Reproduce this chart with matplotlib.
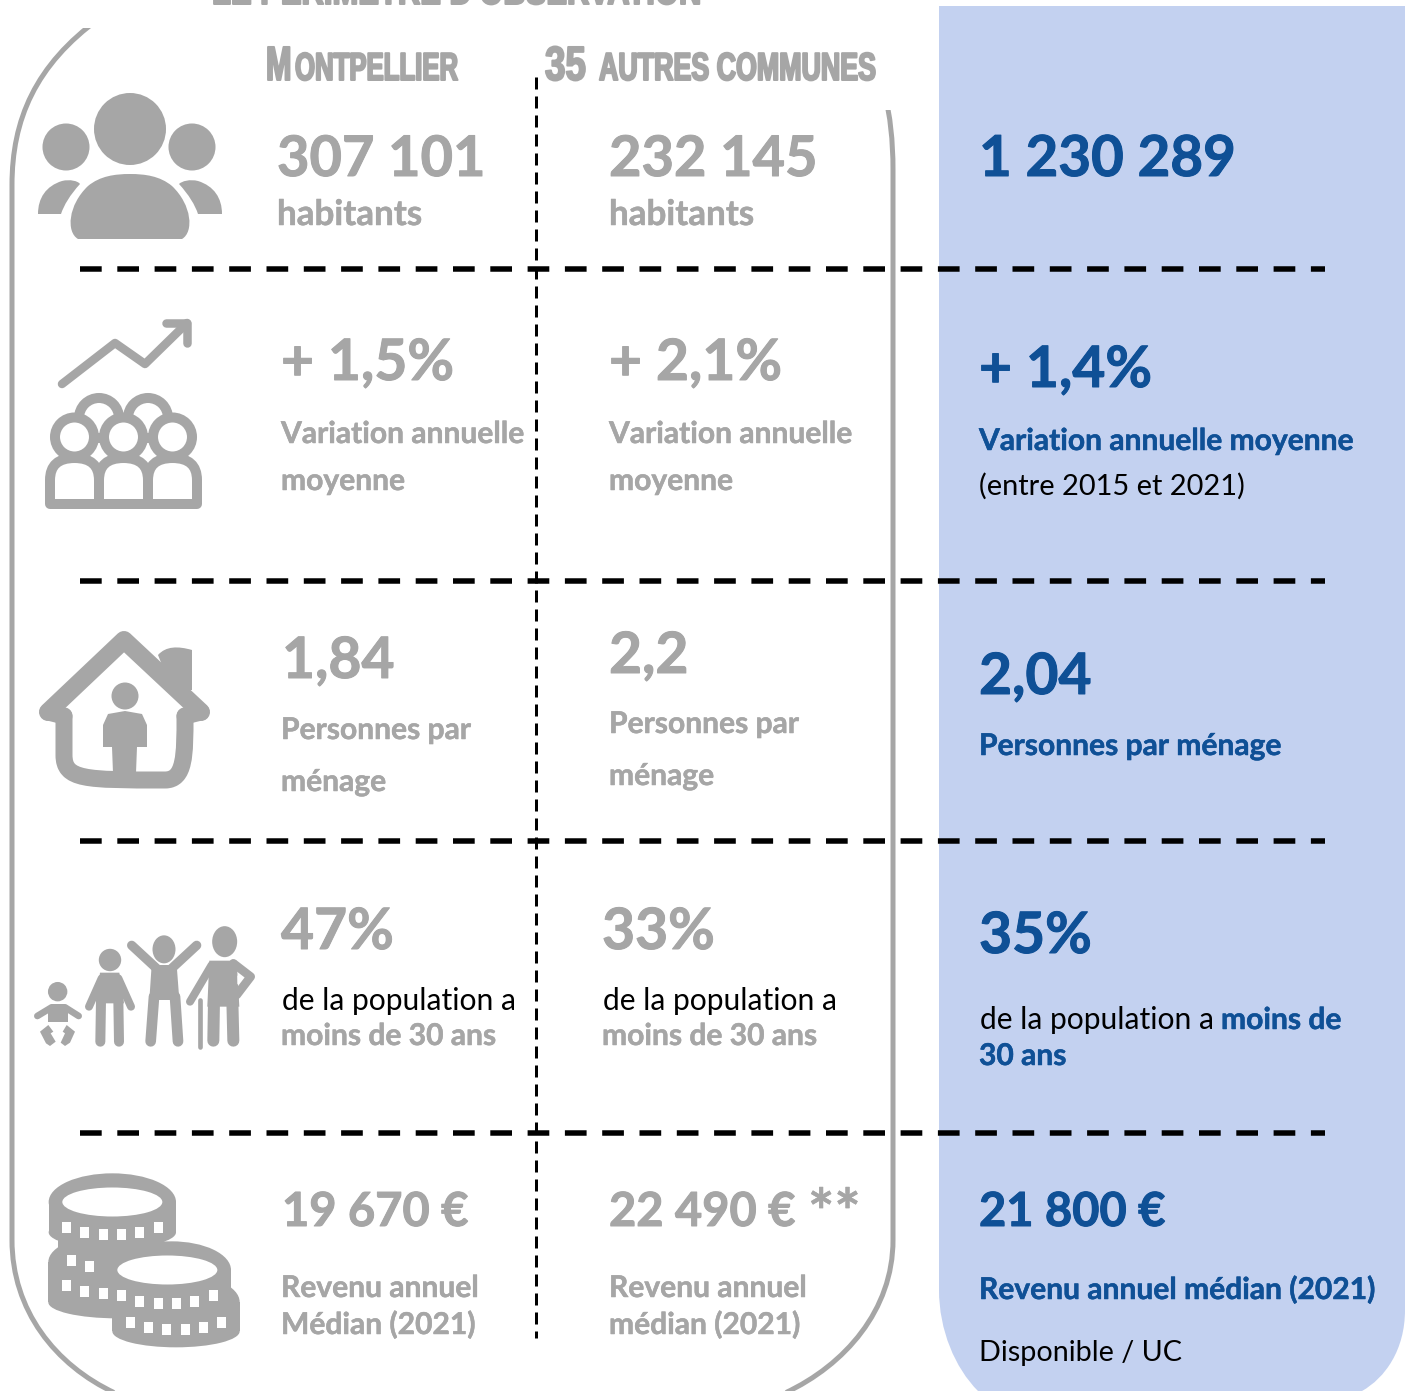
import numpy as np
import matplotlib
matplotlib.use("Agg")
import matplotlib.pyplot as plt
import matplotlib.patheffects as pe
from matplotlib.patches import Circle, Ellipse, Polygon, PathPatch, Rectangle
from matplotlib.path import Path
from matplotlib.transforms import Affine2D

GRIS = "#A6A6A6"
BLEU = "#0F5096"
FOND = "#C3D1F0"
POLICE = ["Lato", "DejaVu Sans"]
ETROITE = ["Liberation Sans", "DejaVu Sans"]

# Textes du tableau
titre = "LE PÉRIMÈTRE D'OBSERVATION"
population = ["307 101", "232 145", "1 230 289"]
variation = ["+ 1,5%", "+ 2,1%", "+ 1,4%"]
menage = ["1,84", "2,2", "2,04"]
jeunes = ["47%", "33%", "35%"]
revenu = ["19 670 €", "22 490 €", "21 800 €"]

L, H = 1405, 1391
fig = plt.figure(figsize=(L / 100, H / 100), dpi=100)
ax = fig.add_axes([0, 0, 1, 1])
ax.set_xlim(0, L)
ax.set_ylim(H, 0)
ax.axis("off")
rendu = fig.canvas.get_renderer()

px = 0.72  # 1 pixel en points


# Effet qui resserre le texte en largeur (pas de police condensée installée)
class Serre(pe.AbstractPathEffect):
    def __init__(self, sx, x0, epais):
        super().__init__()
        self.sx, self.x0, self.epais = sx, x0, epais

    def draw_path(self, renderer, gc, tpath, affine, rgbFace=None):
        serre = Affine2D().translate(-self.x0, 0).scale(self.sx, 1).translate(self.x0, 0)
        gc0 = renderer.new_gc()
        gc0.copy_properties(gc)
        gc0.set_linewidth(self.epais * px)
        gc0.set_foreground(GRIS)
        renderer.draw_path(gc0, tpath, affine + serre, rgbFace)
        gc0.restore()


def texte(x, y, s, taille, couleur=GRIS, gras=True, epais=0.5):
    t = ax.text(x, y, s, fontsize=taille * px, color=couleur, family=POLICE,
                fontweight="bold" if gras else "normal", va="baseline", ha="left", zorder=6)
    if gras:
        t.set_path_effects([pe.withStroke(linewidth=epais * px, foreground=couleur)])


def entete(x, x_fin, y, s, taille):
    t = ax.text(x, y, s, fontsize=taille * px, color=GRIS, family=ETROITE,
                fontweight="bold", va="baseline", ha="left", zorder=6)
    largeur = t.get_window_extent(rendu).width
    t.set_path_effects([Serre((x_fin - x) / largeur, x, 2.0)])


def trait(pts, lw, couleur=GRIS, z=3):
    pts = np.array(pts)
    ax.plot(pts[:, 0], pts[:, 1], color=couleur, lw=lw * px, solid_capstyle="round",
            solid_joinstyle="round", zorder=z)


def plein(verts, codes, fc=GRIS, z=3):
    ax.add_patch(Polygon(Path(verts, codes).to_polygons(closed_only=False)[0], fc=fc, ec="none", zorder=z))


def ligne(verts, codes, lw, z=3):
    trait(Path(verts, codes).to_polygons(closed_only=False)[0], lw, z=z)


M, LI, C3, C4 = Path.MOVETO, Path.LINETO, Path.CURVE3, Path.CURVE4

# Fond bleu de la colonne de droite
plein([(939, 6), (1405, 6), (1405, 1310), (1405, 1350), (1385, 1378), (1362, 1391), (978, 1391),
       (955, 1368), (939, 1330), (939, 1290), (939, 6)],
      [M, LI, LI, C4, C4, C4, LI, C4, C4, C4, LI], fc=FOND, z=1)

# Cadre arrondi gris, coupé net en haut à gauche et à droite
ligne([(100, 18), (35, 65), (12, 120), (12, 185), (12, 1240), (12, 1310), (55, 1365), (115, 1393),
       (785, 1393), (845, 1365), (893, 1310), (893, 1240), (893, 170), (893, 140), (890, 115), (885, 95)],
      [M, C4, C4, C4, LI, C4, C4, C4, LI, C4, C4, C4, LI, C4, C4, C4], 5, z=2)
ax.add_patch(Rectangle((50, 6), 70, 22, fc="white", ec="none", zorder=2.5))
ax.add_patch(Rectangle((870, 85), 30, 25, fc="white", ec="none", zorder=2.5))

# Pointillés
for y in [269, 581, 841, 1133]:
    ax.plot([80, 1325], [y, y], color="black", lw=5.5 * px, dashes=(21.7 / 5.5, 15.6 / 5.5),
            dash_capstyle="butt", zorder=4)
ax.plot([536, 536], [77, 1338], color="black", lw=3 * px, dashes=(12 / 3, 7 / 3),
        dash_capstyle="butt", zorder=4)

# En-têtes
entete(212, 700, 4, titre, 40)
entete(266, 291.5, 80, "M", 48)
entete(295, 458, 80, "ONTPELLIER", 39)
entete(545, 586, 80, "35", 48)
entete(599, 876, 80, "AUTRES COMMUNES", 39)

# Icône 1 : groupe
for c, r in [((130, 129), 36), ((66, 147), 23.5), ((192, 147), 23.5)]:
    ax.add_patch(Circle(c, r, fc=GRIS, ec="none", zorder=3))
plein([(78, 239), (66, 232), (68, 205), (88, 186), (100, 176), (115, 174), (130, 174), (145, 174),
       (160, 176), (172, 186), (192, 205), (194, 232), (182, 239), (78, 239)],
      [M, C4, C4, C4, C4, C4, C4, C4, C4, C4, C4, C4, C4, LI])
plein([(38, 214), (38, 198), (46, 186), (62, 181), (70, 179), (78, 181), (80, 184), (70, 195), (64, 205), (61, 214), (38, 214)],
      [M, C4, C4, C4, C4, C4, C4, C4, C4, C4, LI])
plein([(222, 214), (222, 198), (214, 186), (198, 181), (190, 179), (182, 181), (179, 184), (189, 195), (195, 205), (198, 214), (222, 214)],
      [M, C4, C4, C4, C4, C4, C4, C4, C4, C4, LI])

# Icône 2 : croissance
trait([(62, 384), (115, 343), (145, 364), (187, 323)], 8.5)
trait([(166, 323), (187, 323), (187, 343)], 8.5)
for c in [(99, 418), (148, 418)]:
    ax.add_patch(Circle(c, 20, fc="white", ec=GRIS, lw=10 * px, zorder=3))
for x in [74.5, 123.5, 172.5]:
    verts = [(x - 24.5, 504), (x - 24.5, 480), (x - 24.5, 458), (x, 458), (x + 24.5, 458),
             (x + 24.5, 480), (x + 24.5, 504), (x - 24.5, 504)]
    ax.add_patch(PathPatch(Path(verts, [M, LI, C3, C3, C3, C3, LI, Path.CLOSEPOLY]), fc="white", ec=GRIS,
                           lw=10 * px, zorder=3, joinstyle="round"))
for x in [74.5, 123.5, 172.5]:
    ax.add_patch(Circle((x, 437), 19.5, fc="white", ec=GRIS, lw=10 * px, zorder=3))

# Icône 3 : maison
trait([(48, 712), (124, 640), (201, 712)], 18)
trait([(48, 712), (64, 716)], 17)
trait([(201, 712), (185, 716)], 17)
ligne([(64, 716), (64, 755), (64, 780), (85, 780), (165, 780), (185, 780), (185, 755), (185, 716)],
      [M, LI, C4, C4, LI, C4, C4, LI], 17)
plein([(158, 655), (166, 646), (178, 646), (192, 650), (192, 665), (192, 690), (172, 690), (158, 655)],
      [M, C4, C4, C4, LI, LI, LI, LI])
ax.add_patch(Circle((125, 696), 13.5, fc=GRIS, ec="none", zorder=3))
plein([(108, 714), (125, 711), (142, 714), (147, 725), (147, 747), (137, 747), (136, 773), (113, 773), (112, 747), (103, 747), (103, 725)],
      [M, LI, LI, LI, LI, LI, LI, LI, LI, LI, LI])


def z4(x, y):
    return (x / 3 + 20, y / 3 + 900)


def m4(pts, lw):
    trait([z4(*p) for p in pts], lw / 3)


def poly4(pts):
    ax.add_patch(Polygon([z4(*p) for p in pts], fc=GRIS, ec="none", zorder=3))


ax.add_patch(Circle(z4(113, 275), 9.7, fc=GRIS, ec="none", zorder=3))
m4([(52, 348), (95, 322), (135, 322), (176, 348)], 20)
poly4([(85, 320), (143, 320), (143, 366), (85, 366)])
poly4([(60, 395), (85, 375), (100, 395), (92, 400), (107, 425), (90, 438), (78, 430)])
poly4([(165, 395), (140, 375), (128, 395), (135, 400), (122, 428), (135, 438), (150, 428)])
ax.add_patch(Circle(z4(270, 180), 11.2, fc=GRIS, ec="none", zorder=3))
poly4([(240, 218), (298, 218), (312, 310), (228, 310)])
m4([(245, 235), (207, 320)], 24)
m4([(295, 235), (333, 320)], 24)
m4([(243, 300), (241, 425)], 30)
m4([(295, 300), (297, 425)], 30)
ax.add_patch(Ellipse(z4(432, 148), 23, 28, fc=GRIS, ec="none", zorder=3))
m4([(335, 136), (415, 210)], 28)
m4([(530, 136), (450, 210)], 28)
poly4([(395, 195), (470, 195), (478, 300), (388, 300)])
m4([(402, 290), (392, 424)], 32)
m4([(465, 290), (474, 424)], 32)
ax.add_patch(Ellipse(z4(614, 125), 25, 31, fc=GRIS, ec="none", zorder=3))
poly4([(568, 182), (650, 182), (658, 320), (562, 320)])
m4([(582, 300), (580, 422)], 36)
m4([(637, 300), (640, 422)], 36)
m4([(575, 195), (510, 305)], 24)
m4([(541, 300), (541, 440)], 14)
m4([(640, 190), (692, 230), (650, 285)], 26)
ax.add_patch(Polygon([z4(652, 226), z4(666, 236), z4(652, 254)], fc="white", ec="none", zorder=3))


# Icône 5 : pièces
def piece(cx, haut, bas, rx=191, ry=86, ry_bas=48):
    xc, yh = z4(cx, haut + ry)
    _, yb = z4(cx, bas - ry_bas)
    ax.add_patch(Ellipse((xc, yh), 2 * rx / 3, 2 * ry / 3, fc=GRIS, ec="none", zorder=3))
    ax.add_patch(Ellipse((xc, yb), 2 * rx / 3, 2 * ry_bas / 3, fc=GRIS, ec="none", zorder=3))
    ax.add_patch(Rectangle((xc - rx / 3, yh), 2 * rx / 3, yb - yh, fc=GRIS, ec="none", zorder=3))


def encoches(cx, y0, garde=lambda x: True):
    for dx in np.linspace(-137, 137, 6):
        if not garde(cx + dx):
            continue
        y = y0 + 40 * np.sqrt(1 - (dx / 152) ** 2)
        xc, yc = z4(cx + dx, y)
        ax.add_patch(Rectangle((xc - 4.5, yc - 5.5), 9, 11, fc="white", ec="none", zorder=4))


piece(290, 1000, 1255, 205)
piece(277, 820, 1045)
ax.add_patch(Rectangle(z4(115, 1000), 70, 30, fc=GRIS, ec="none", zorder=3))
encoches(277, 965)
encoches(277, 1140, lambda x: x < 260)
encoches(290, 1065, lambda x: x < 240)
ax.add_patch(Ellipse(z4(277, 906), 100, 29, fc="white", ec="none", zorder=4))
piece(468, 1120, 1342)
piece(455, 1024, 1240, 178)
encoches(442, 1170)
encoches(468, 1250)
ax.add_patch(Ellipse(z4(442, 1110), 100, 29, fc="white", ec="none", zorder=5))

# Ligne 1
texte(277, 176, population[0], 56, epais=1)
texte(609, 176, population[1], 56, epais=1)
texte(979, 176, population[2], 56.5, BLEU, epais=1)
texte(277, 225, "habitants", 35)
texte(609, 225, "habitants", 35)

# Ligne 2
texte(281, 380, variation[0], 57, epais=1)
texte(609, 380, variation[1], 57, epais=1)
texte(979, 387, variation[2], 57, BLEU, epais=1)
texte(281, 443, "Variation annuelle", 30)
texte(281, 490, "moyenne", 30)
texte(609, 443, "Variation annuelle", 30)
texte(609, 490, "moyenne", 30)
texte(979, 450, "Variation annuelle moyenne", 30, BLEU)
texte(979, 495, "(entre 2015 et 2021)", 29, "black", False)

# Ligne 3
texte(282, 678, menage[0], 57, epais=1)
texte(609, 673, menage[1], 57, epais=1)
texte(979, 694, menage[2], 57, BLEU, epais=1)
texte(281, 739, "Personnes par", 30)
texte(281, 791, "ménage", 30)
texte(609, 733, "Personnes par", 30)
texte(609, 785, "ménage", 30)
texte(979, 755, "Personnes par ménage", 30, BLEU)

# Ligne 4
texte(281, 949, jeunes[0], 57, epais=1)
texte(602, 949, jeunes[1], 57, epais=1)
texte(979, 953, jeunes[2], 57, BLEU, epais=1)
texte(282, 1010, "de la population a", 30, "black", False)
texte(281, 1045, "moins de 30 ans", 30)
texte(603, 1010, "de la population a", 30, "black", False)
texte(602, 1045, "moins de 30 ans", 30)
texte(980, 1029, "de la population a", 30, "black", False)
texte(1221, 1029, "moins de", 30, BLEU)
texte(979, 1065, "30 ans", 30, BLEU)

# Ligne 5
texte(282, 1226, revenu[0], 47, epais=1)
texte(609, 1226, revenu[1], 47, epais=1)
texte(808, 1234, "**", 62)
texte(979, 1226, revenu[2], 47, BLEU, epais=1)
texte(281, 1297, "Revenu annuel", 30)
texte(281, 1334, "Médian (2021)", 30)
texte(609, 1297, "Revenu annuel", 30)
texte(609, 1334, "médian (2021)", 30)
texte(979, 1299, "Revenu annuel médian (2021)", 30, BLEU)
texte(979, 1361, "Disponible / UC", 28.8, "black", False)

fig.savefig("out.png", dpi=100)
